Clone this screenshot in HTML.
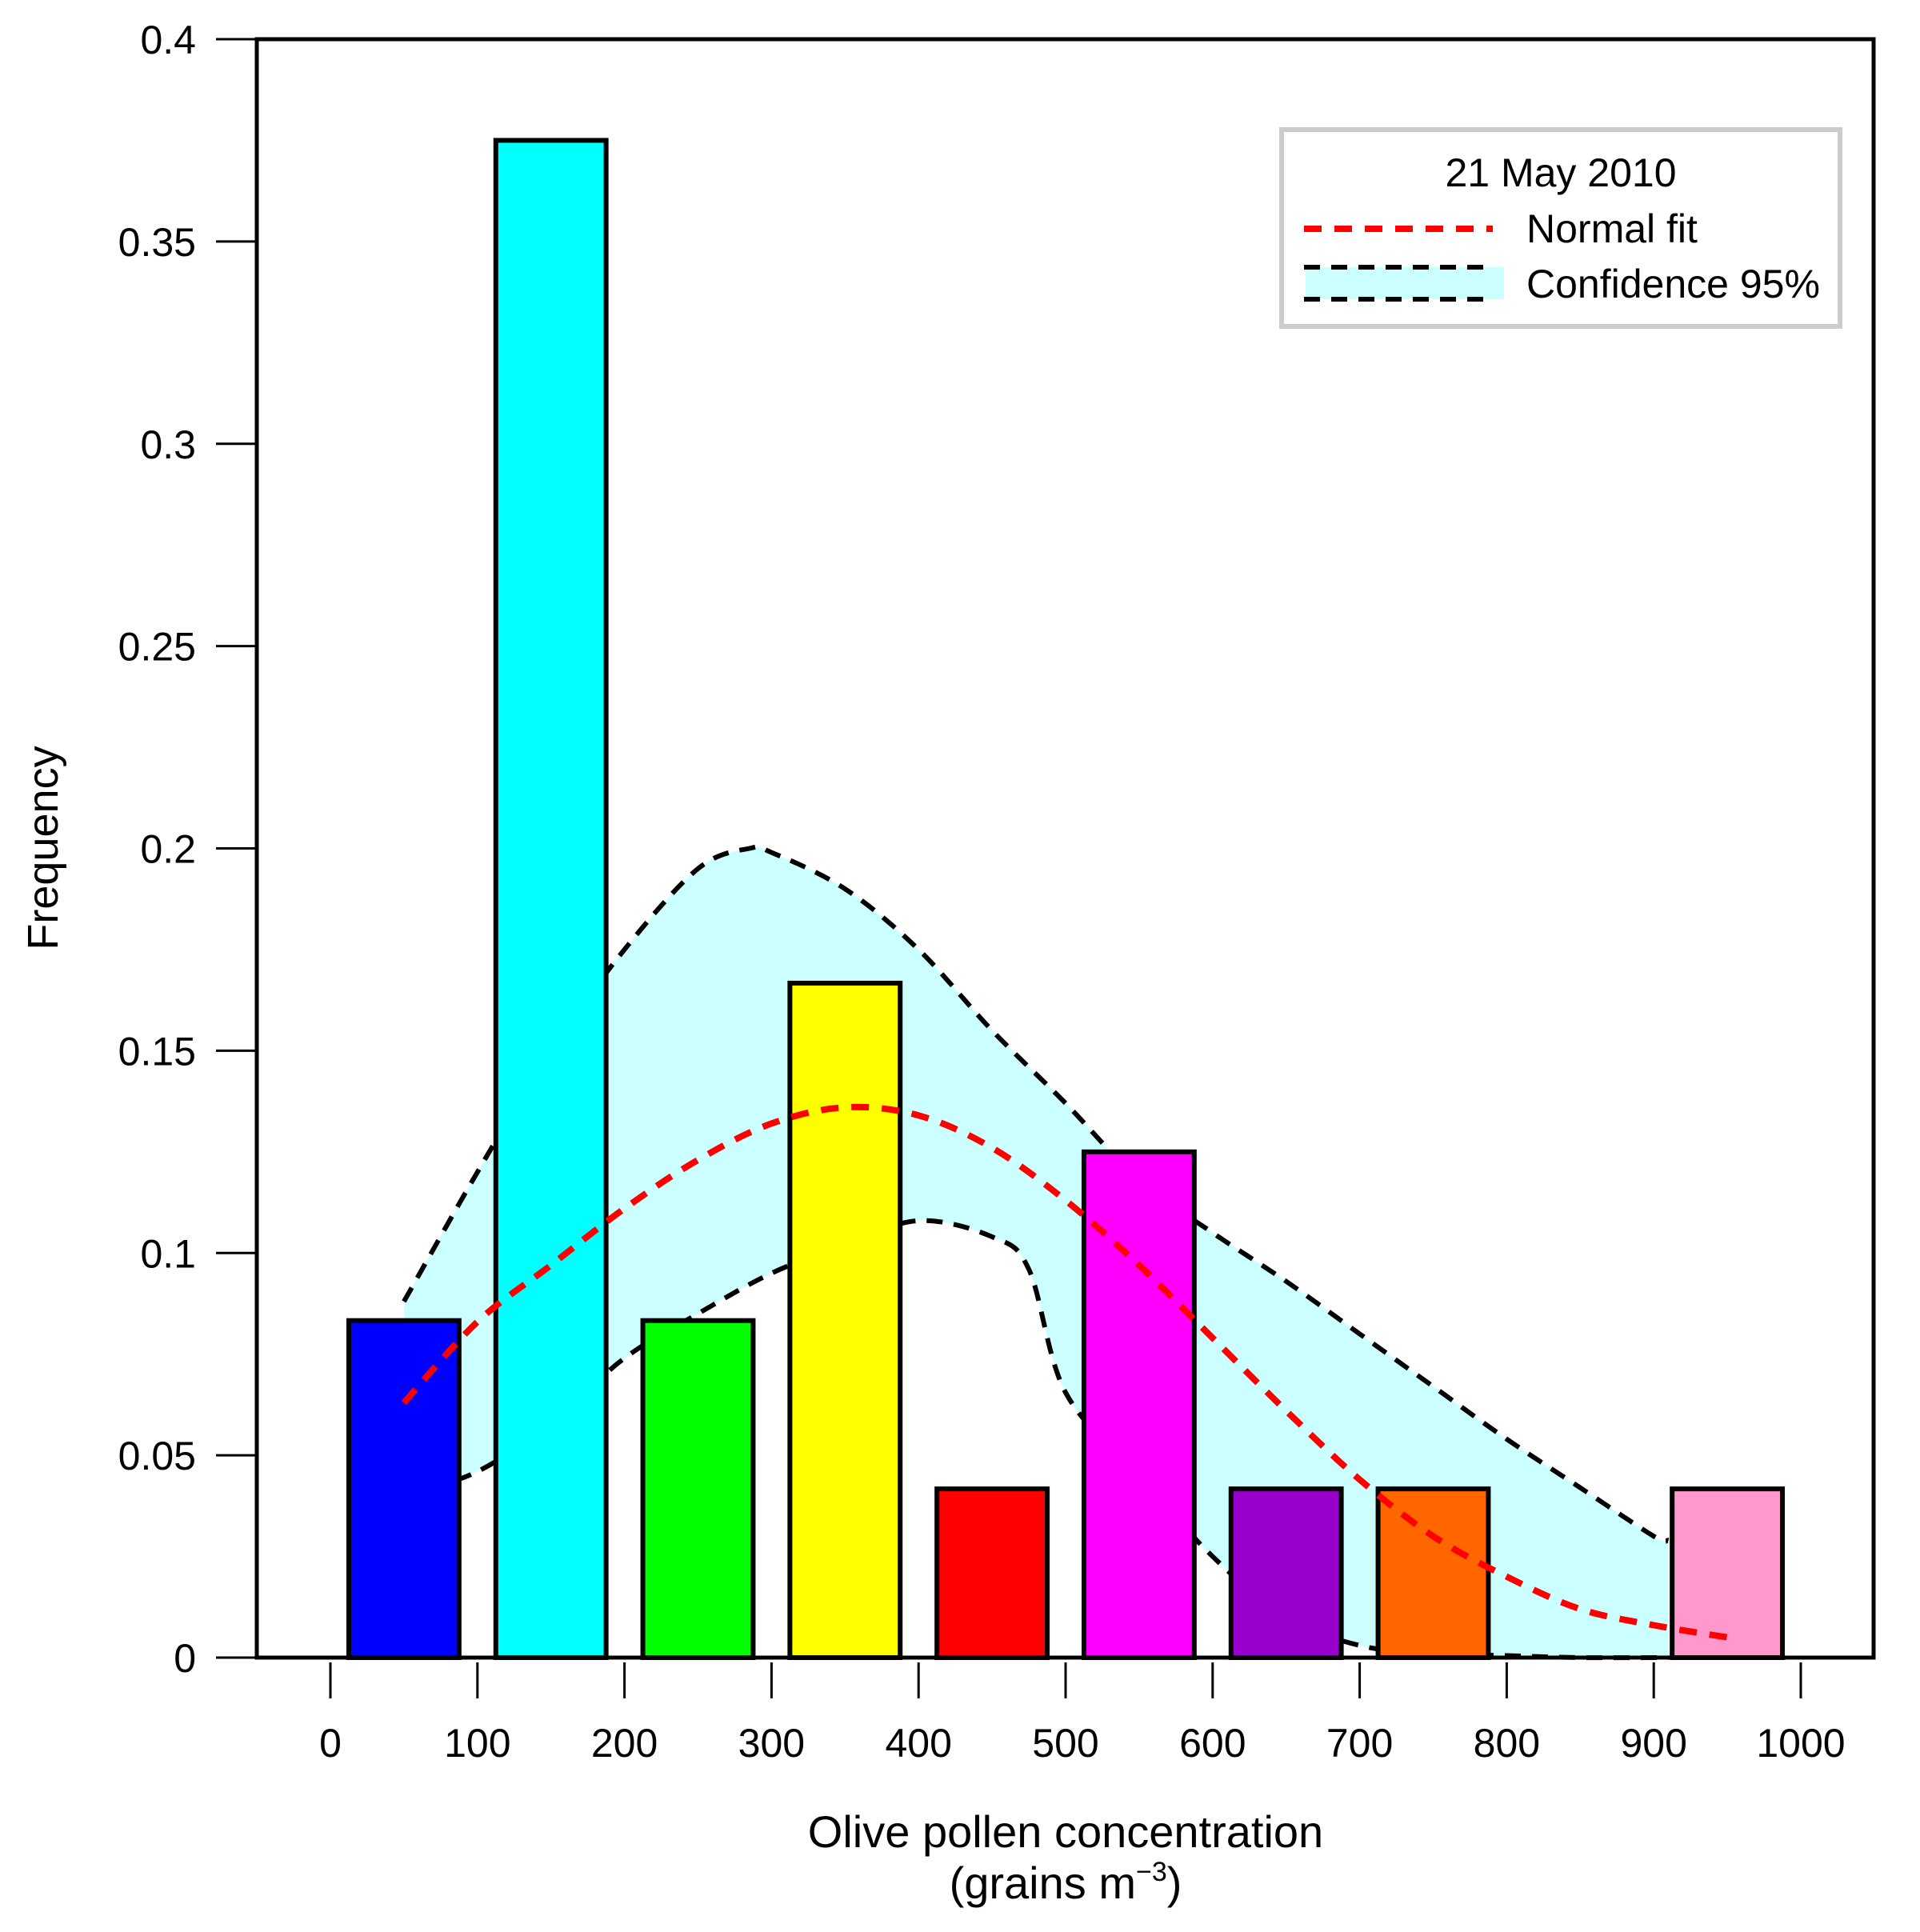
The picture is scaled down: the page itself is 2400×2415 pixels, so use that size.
<!DOCTYPE html>
<html><head><meta charset="utf-8"><style>
body{margin:0;background:#fff}
svg{display:block;font-family:"Liberation Sans",Arial,sans-serif}
</style></head><body>
<svg id="chart" width="2400" height="2415" viewBox="0 0 2400 2415" xmlns="http://www.w3.org/2000/svg">
<rect width="2400" height="2415" fill="#fff"/>
<g id="band"></g>
<g id="cilines"></g>
<g id="bars"></g>
<g id="fit"></g>
<rect x="321" y="49" width="2021" height="2023" fill="none" stroke="#000" stroke-width="5"/>
<g id="axes"></g>
<text transform="translate(72,1060) rotate(-90)" text-anchor="middle" font-size="54">Frequency</text>
<text x="1332" y="2309" text-anchor="middle" font-size="56">Olive pollen concentration</text>
<text x="1332" y="2373" text-anchor="middle" font-size="56">(grains m<tspan font-size="34" dy="-22">−3</tspan><tspan dy="22">)</tspan></text>
<g>
<rect x="1602" y="162" width="698" height="246" fill="#fff" stroke="#ccc" stroke-width="6"/>
<text x="1951" y="233" text-anchor="middle" font-size="50">21 May 2010</text>
<line x1="1630" y1="286" x2="1866" y2="286" stroke="#f00" stroke-width="8" stroke-dasharray="22,16"/>
<text x="1908" y="303" font-size="50">Normal fit</text>
<rect x="1632" y="334" width="248" height="40" fill="#ccffff"/>
<line x1="1630" y1="334" x2="1866" y2="334" stroke="#000" stroke-width="6" stroke-dasharray="20,14"/>
<line x1="1630" y1="374" x2="1866" y2="374" stroke="#000" stroke-width="6" stroke-dasharray="20,14"/>
<text x="1908" y="372" font-size="50">Confidence 95%</text>
</g>
</svg>
<script>
const binCenters=[50,150,250,350,450,550,650,750,850,950];
const binFreq=[0.0833,0.375,0.0833,0.1667,0.0417,0.125,0.0417,0.0417,0,0.0417];
const binColors=['#0000ff','#00ffff','#00ff00','#ffff00','#ff0000','#ff00ff','#9900cc','#ff6600','#ffffff','#ff99cc'];
const fitX=[50,100,150,200,250,300,350,400,450,500,550,600,650,700,750,800,850,900,950];
const fitY=[0.063,0.083,0.097,0.111,0.123,0.132,0.136,0.134,0.126,0.113,0.097,0.079,0.061,0.044,0.030,0.020,0.012,0.008,0.005];
const upX=[50,100,150,200,250,285,300,350,400,450,500,550,600,650,700,750,800,850,900,910];
const upY=[0.088,0.12,0.15,0.175,0.195,0.2,0.199,0.19,0.175,0.155,0.137,0.118,0.105,0.093,0.08,0.067,0.054,0.042,0.03,0.029];
const loX=[50,100,150,200,250,300,350,400,450,475,500,550,600,650,700,750,800,850,910];
const loY=[0.04,0.046,0.058,0.074,0.085,0.095,0.102,0.108,0.104,0.096,0.0655,0.045,0.025,0.01,0.003,0.001,0.0005,0,0];
const xTicks=[0,100,200,300,400,500,600,700,800,900,1000];
const yTicks=[0,0.05,0.1,0.15,0.2,0.25,0.3,0.35,0.4];
const yTickLabels=['0','0.05','0.1','0.15','0.2','0.25','0.3','0.35','0.4'];
const binWidth=75;
const NS='http://www.w3.org/2000/svg';
const sx=v=>413+v*(2251-413)/1000;
const sy=v=>2072-v*(2072-49)/0.4;
function mk(tag,attrs,parent){const e=document.createElementNS(NS,tag);for(const k in attrs)e.setAttribute(k,attrs[k]);parent.appendChild(e);return e;}
function smooth(xs,ys,move){
 const p=xs.map((x,i)=>[sx(x),sy(ys[i])]);
 let d=(move?'M':'L')+p[0][0].toFixed(1)+','+p[0][1].toFixed(1);
 for(let i=0;i<p.length-1;i++){
  const p0=p[Math.max(0,i-1)],p1=p[i],p2=p[i+1],p3=p[Math.min(p.length-1,i+2)];
  const c1=[p1[0]+(p2[0]-p0[0])/6,p1[1]+(p2[1]-p0[1])/6];
  const c2=[p2[0]-(p3[0]-p1[0])/6,p2[1]-(p3[1]-p1[1])/6];
  d+=' C'+c1.map(v=>v.toFixed(1))+' '+c2.map(v=>v.toFixed(1))+' '+p2.map(v=>v.toFixed(1));
 }
 return d;
}
const rx=loX.slice().reverse(), ry=loY.slice().reverse();
const band=mk('path',{d:smooth(upX,upY,true)+' '+smooth(rx,ry,false)+' Z',fill:'#ccffff'},document.getElementById('band'));


const cl=document.getElementById('cilines');
const up=mk('path',{d:smooth(upX,upY,true),fill:'none',stroke:'#000','stroke-width':6,'stroke-dasharray':'20,14'},cl);


const lo=mk('path',{d:smooth(loX,loY,true),fill:'none',stroke:'#000','stroke-width':6,'stroke-dasharray':'20,14'},cl);


const bg=document.getElementById('bars');
binCenters.forEach((c,i)=>{if(binFreq[i]<=0)return;
 const r=mk('rect',{x:sx(c-binWidth/2),y:sy(binFreq[i]),width:sx(c+binWidth/2)-sx(c-binWidth/2),height:sy(0)-sy(binFreq[i]),fill:binColors[i],stroke:'#000','stroke-width':6},bg);
 
 
});
const fl=mk('path',{d:smooth(fitX,fitY,true),fill:'none',stroke:'#f00','stroke-width':8,'stroke-dasharray':'22,16'},document.getElementById('fit'));


const ax=document.getElementById('axes');
const xa=mk('line',{x1:sx(0),x2:sx(1000),y1:2072,y2:2072,stroke:'none'},ax);


xTicks.forEach(t=>{
 mk('line',{x1:sx(t),x2:sx(t),y1:2078,y2:2123,stroke:'#000','stroke-width':3},ax);
 const tx=mk('text',{x:sx(t),y:2196,'text-anchor':'middle','font-size':50},ax);tx.textContent=t;
 
 
});
const ya=mk('line',{x1:270,x2:270,y1:sy(0),y2:sy(0.4),stroke:'none'},ax);


yTicks.forEach((t,i)=>{
 mk('line',{x1:270,x2:321,y1:sy(t),y2:sy(t),stroke:'#000','stroke-width':3},ax);
 const tx=mk('text',{x:245,y:sy(t)+18,'text-anchor':'end','font-size':50},ax);tx.textContent=yTickLabels[i];
 
 
});
</script>
</body></html>
